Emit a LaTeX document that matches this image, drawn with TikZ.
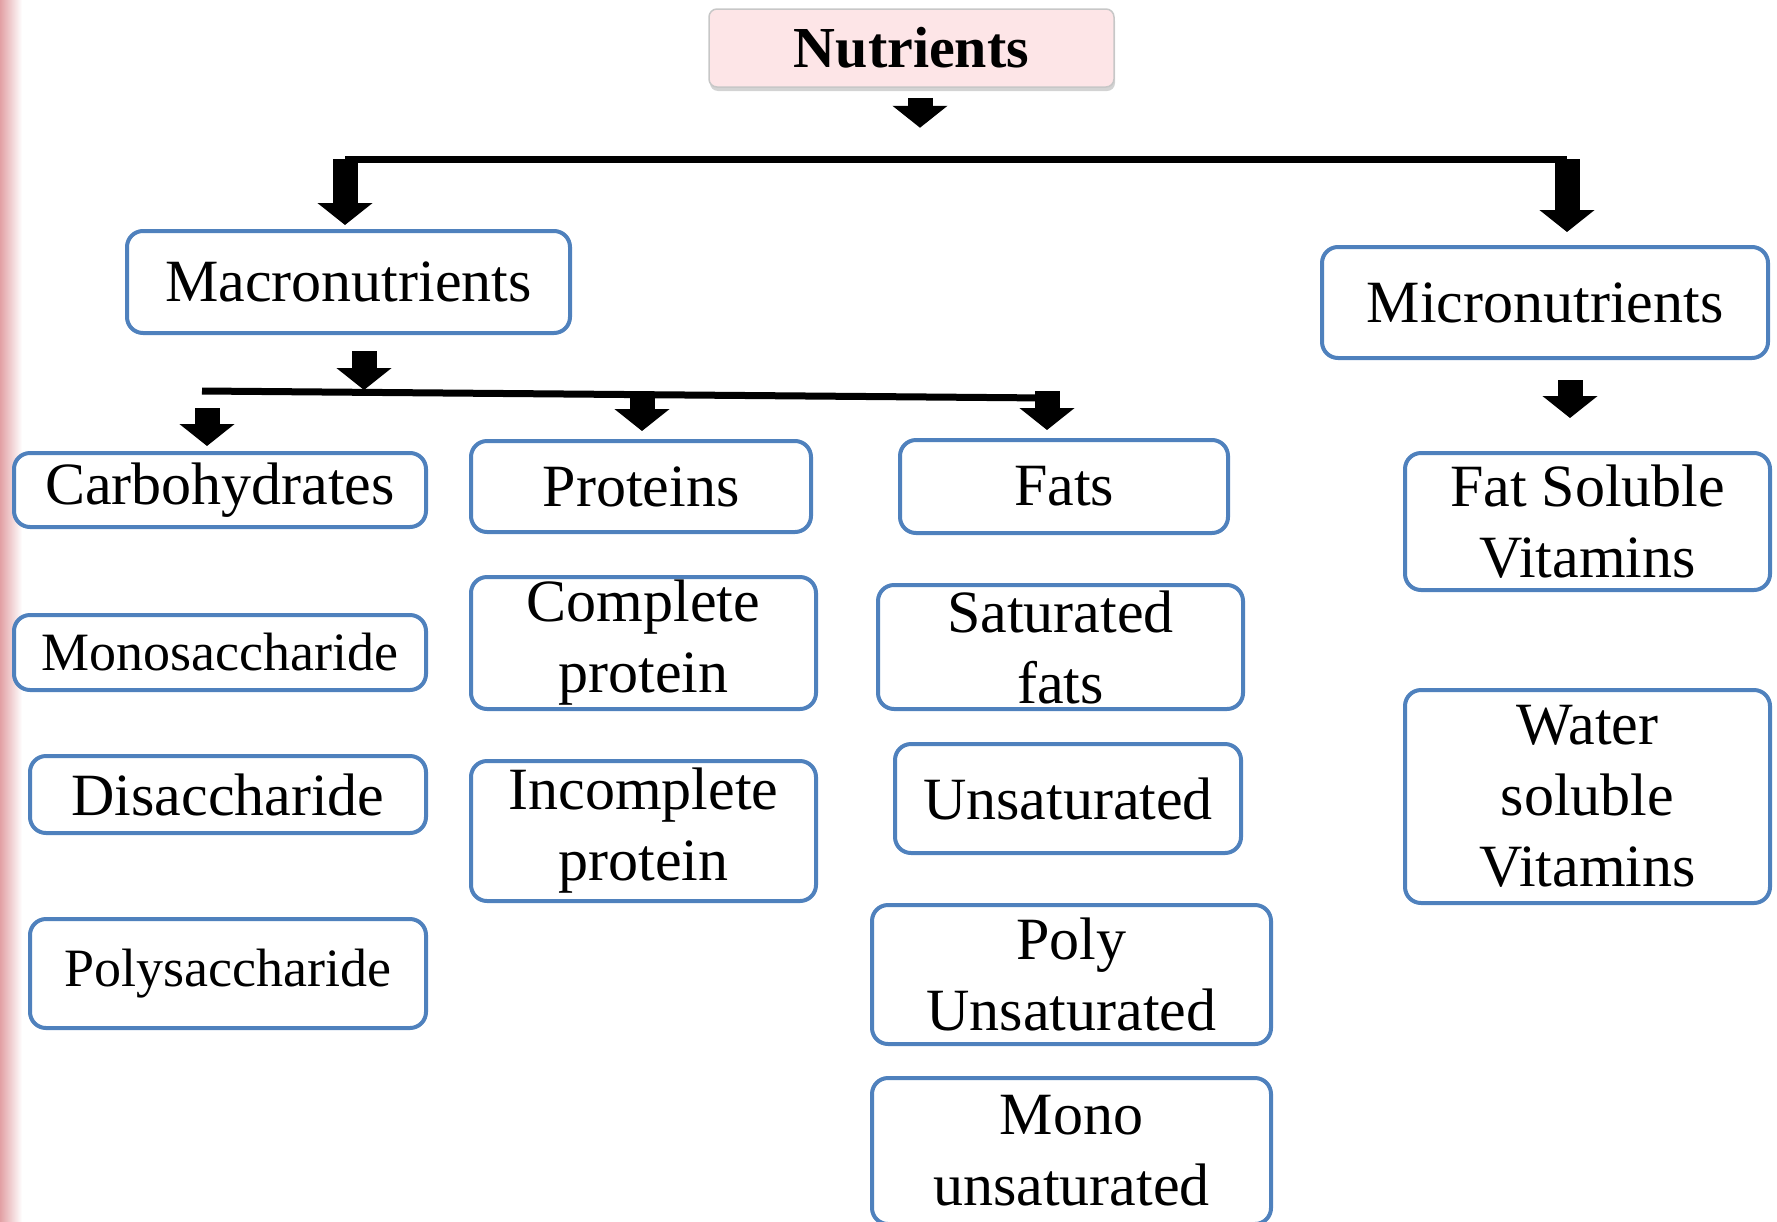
\documentclass[tikz,border=0pt]{standalone}
\usepackage{fontspec}
\setmainfont{Liberation Serif}
\usetikzlibrary{arrows.meta,shadows,calc}
\definecolor{boxblue}{RGB}{79,129,189}
\definecolor{nutpink}{RGB}{253,229,231}
\definecolor{stripred}{RGB}{226,160,164}
\begin{document}
\begin{tikzpicture}[x=1pt, y=-1pt, line join=round,
		box/.style={draw=boxblue, line width=4pt, rounded corners=16pt, fill=white, align=center, inner sep=0pt, font=\fontsize{60}{71}\selectfont},
		small/.style={font=\fontsize{54}{71}\selectfont},
		top/.style={draw=black!22, line width=1.5pt, rounded corners=8pt, fill=nutpink, inner sep=0pt, font=\bfseries\fontsize{58}{60}\selectfont, drop shadow={opacity=0.35, shadow xshift=1pt, shadow yshift=-4pt}},
		bar/.style={line width=7pt, line cap=butt},
		blk/.style={line width=25pt, -{Triangle[length=22pt,width=54pt]}}]
	\useasboundingbox (0,0) rectangle (1777,1221);
	\clip (0,0) rectangle (1777,1221);
	\shade[left color=stripred, right color=white] (0,0) rectangle (22,1221);
	\node[top, minimum width=405pt, minimum height=78pt] (nutr) at (911.5,48) {Nutrients};
	\node[box, minimum width=443pt, minimum height=102pt] (macro) at (348.5,282) {Macronutrients};
	\node[box, minimum width=446pt, minimum height=111pt] (micro) at (1545,302.5) {Micronutrients};
	\node[box, minimum width=412pt, minimum height=74pt] (carbo) at (220,490) {Carbohydrates};
	\node[box, minimum width=340pt, minimum height=91pt] (prot) at (641,486.5) {Proteins};
	\node[box, minimum width=328pt, minimum height=93pt] (fats) at (1064,486.5) {Fats};
	\node[box, small, minimum width=412pt, minimum height=75pt] (mono) at (220,652.5) {Monosaccharide};
	\node[box, minimum width=396pt, minimum height=77pt] (disac) at (228,794.5) {Disaccharide};
	\node[box, small, minimum width=396pt, minimum height=109pt] (polys) at (228,973.5) {Polysaccharide};
	\node[box, minimum width=345pt, minimum height=132pt] (compl) at (643.5,643) {Complete\\protein};
	\node[box, minimum width=345pt, minimum height=140pt] (incompl) at (643.5,831) {Incomplete\\protein};
	\node[box, minimum width=365pt, minimum height=124pt] (satur) at (1060.5,647) {Saturated\\fats};
	\node[box, minimum width=346pt, minimum height=109pt] (unsat) at (1068,798.5) {Unsaturated};
	\node[box, minimum width=399pt, minimum height=139pt] (polyu) at (1071.5,974.5) {Poly\\Unsaturated};
	\node[box, minimum width=399pt, minimum height=146pt] (monou) at (1071.5,1151) {Mono\\unsaturated};
	\node[box, minimum width=365pt, minimum height=137pt] (fsv) at (1587.5,521.5) {Fat Soluble\\Vitamins};
	\node[box, minimum width=365pt, minimum height=213pt] (wsv) at (1587.5,796.5) {Water\\soluble\\Vitamins};
	\coordinate (barA) at (345,159);
	\coordinate (barB) at (1567,159);
	\coordinate (barC) at (202,391);
	\coordinate (barD) at (1048,398);
	\draw[bar] (barA) -- (barB);
	\draw[bar] (barC) -- (barD);
	\draw[blk] ($(nutr.south)+(8.5,10)$) -- ++(0,30);
	\draw[blk] (barA) -- ($(barA |- macro.north)+(0,-4)$);
	\draw[blk] (barB) -- ($(barB |- micro.north)+(0,-13)$);
	\draw[blk] ($(macro.south)+(15.5,16)$) -- ++(0,39);
	\draw[blk] ($(carbo.north)+(-13,-43)$) -- ++(0,38);
	\draw[blk] ($(prot.north)+(1,-47)$) -- ++(0,39);
	\draw[blk] ($(fats.north)+(-17,-47)$) -- ++(0,39);
	\draw[blk] ($(micro.south)+(25,20)$) -- ++(0,38);
\end{tikzpicture}
\end{document}
